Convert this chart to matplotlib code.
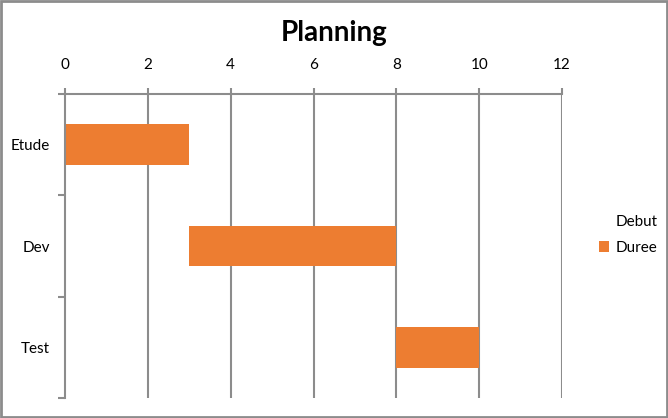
import matplotlib
matplotlib.use("Agg")
import matplotlib.pyplot as plt
from matplotlib.patches import Rectangle, Patch

tasks = ["Etude", "Dev", "Test"]
debut = [0, 3, 8]
duree = [3, 5, 2]
xticks = [0, 2, 4, 6, 8, 10, 12]

plt.rcParams['font.family'] = ['Lato', 'DejaVu Sans']
grey = "#8c8c8c"
orange = "#ED7D31"

fig = plt.figure(figsize=(6.68, 4.18), dpi=100)
ax = fig.add_axes([65/668, 1-398/418, (562-65)/668, (398-94)/418])

ypos = list(range(len(tasks)))
ax.barh(ypos, debut, height=0.4, color="none", label="Debut")
ax.barh(ypos, duree, left=debut, height=0.4, color=orange, label="Duree")

ax.set_xlim(0, 12)
ax.set_ylim(len(tasks)-0.5, -0.5)
ax.xaxis.tick_top()
ax.set_xticks(xticks)
ax.set_xticklabels([str(v) for v in xticks], fontsize=11, color="#000000")
ax.tick_params(axis='x', length=4, width=1.5, color=grey, pad=12)
ax.set_yticks(ypos)
ax.set_yticklabels(tasks, fontsize=11)
ax.set_yticks([-0.5, 0.5, 1.5, 2.5], minor=True)
ax.tick_params(axis='y', which='major', length=0, pad=11)
ax.tick_params(axis='y', which='minor', length=5, width=1.5, color=grey)
for v in xticks[1:]:
    ax.axvline(v, color=grey, lw=1.5, zorder=0)
ax.set_axisbelow(True)
for s in ["right", "bottom"]:
    ax.spines[s].set_visible(False)
for s in ["left", "top"]:
    ax.spines[s].set_color(grey)
    ax.spines[s].set_linewidth(1.5)

fig.text(0.5, 1-33/418, "Planning", ha="center", va="center", fontsize=20, fontweight="bold")

handles = [Patch(facecolor="none", edgecolor="none", label="Debut"),
           Patch(facecolor=orange, edgecolor="none", label="Duree")]
fig.legend(handles=handles, loc="center left", bbox_to_anchor=(585/668, 1-235/418),
           frameon=False, fontsize=11, handlelength=0.7, handleheight=0.7,
           handletextpad=0.4, labelspacing=0.8)

fig.add_artist(Rectangle((0.0015, 0.0025), 0.997, 0.995, transform=fig.transFigure,
                         fill=False, edgecolor=grey, lw=2))
fig.savefig("out.png", dpi=100)
